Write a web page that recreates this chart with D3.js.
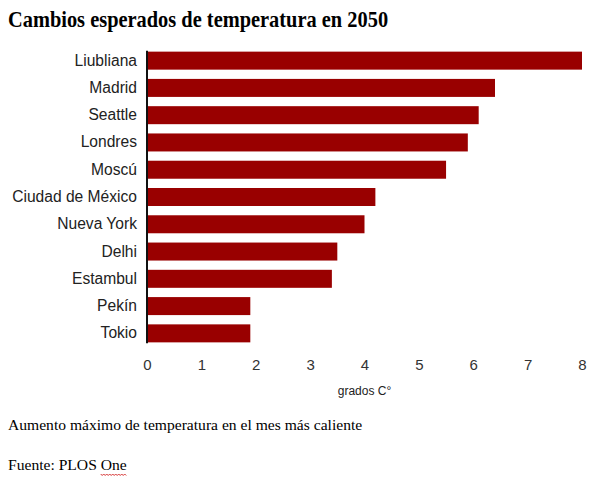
<!DOCTYPE html>
<html>
<head>
<meta charset="utf-8">
<script src="https://cdn.jsdelivr.net/npm/d3@7"></script>
<style>
	body { margin: 0; background: #fff; }
	svg { display: block; }
</style>
</head>
<body>
<div id="chart"></div>
<script>
var cities = ["Liubliana", "Madrid", "Seattle", "Londres", "Moscú", "Ciudad de México",
	"Nueva York", "Delhi", "Estambul", "Pekín", "Tokio"];
var values = [8.0, 6.4, 6.1, 5.9, 5.5, 4.2, 4.0, 3.5, 3.4, 1.9, 1.9];
var xTicks = [0, 1, 2, 3, 4, 5, 6, 7, 8];

function init() {
	var w = 600;
	var h = 482;

	var svg = d3.select("#chart")
		.append("svg")
		.attr("width", w)
		.attr("height", h);

	var xScale = d3.scaleLinear()
		.domain([0, 8])
		.range([147, 582]);

	var yScale = d3.scaleBand()
		.domain(cities)
		.range([47, 347])
		.paddingInner(0.34)
		.paddingOuter(0.17);

	// title (slightly taller than wide, like the original)
	svg.append("text")
		.attr("transform", "translate(8,27) scale(1,1.1)")
		.style("font-family", "'Liberation Serif', 'Times New Roman', serif")
		.style("font-weight", "bold")
		.style("font-size", "20.4px")
		.attr("fill", "#000")
		.text("Cambios esperados de temperatura en 2050");

	svg.selectAll("rect.bar")
		.data(values)
		.enter()
		.append("rect")
		.attr("class", "bar")
		.attr("x", xScale(0))
		.attr("y", function(d, i) { return yScale(cities[i]); })
		.attr("width", function(d) { return xScale(d) - xScale(0); })
		.attr("height", yScale.bandwidth())
		.attr("fill", "#990000");

	// city labels
	var yAxis = d3.axisLeft(yScale).tickSize(0).tickPadding(10);
	var gy = svg.append("g")
		.attr("transform", "translate(" + xScale(0) + ",0)")
		.call(yAxis);
	gy.select(".domain").remove();
	gy.selectAll("text")
		.style("font-family", "'Liberation Sans', Arial, sans-serif")
		.style("font-size", "15.6px")
		.attr("fill", "#222");

	// vertical axis line
	svg.append("line")
		.attr("x1", xScale(0))
		.attr("x2", xScale(0))
		.attr("y1", yScale(cities[0]) - 1)
		.attr("y2", yScale(cities[cities.length - 1]) + yScale.bandwidth() + 1)
		.attr("stroke", "#111")
		.attr("stroke-width", 2);

	var xAxis = d3.axisBottom(xScale)
		.tickValues(xTicks)
		.tickSize(0)
		.tickPadding(0);
	var gx = svg.append("g")
		.attr("transform", "translate(0,359)")
		.call(xAxis);
	gx.select(".domain").remove();
	gx.selectAll("text")
		.style("font-family", "'Liberation Sans', Arial, sans-serif")
		.style("font-size", "15px")
		.attr("fill", "#333");

	svg.append("text")
		.attr("x", (xScale(0) + xScale(8)) / 2)
		.attr("y", 395)
		.attr("text-anchor", "middle")
		.style("font-family", "'Liberation Sans', Arial, sans-serif")
		.style("font-size", "12px")
		.attr("fill", "#222")
		.text("grados C°");

	// notes
	svg.append("text")
		.attr("x", 8)
		.attr("y", 430)
		.style("font-family", "'Liberation Serif', 'Times New Roman', serif")
		.style("font-size", "15.6px")
		.attr("fill", "#000")
		.text("Aumento máximo de temperatura en el mes más caliente");

	var src = svg.append("text")
		.attr("x", 8)
		.attr("y", 470)
		.style("font-family", "'Liberation Serif', 'Times New Roman', serif")
		.style("font-size", "15.6px")
		.attr("fill", "#000");
	src.append("tspan").text("Fuente: PLOS ");
	var one = src.append("tspan").text("One");

	// red spell-check squiggle under "One"
	var start = one.node().getStartPositionOfChar(0).x;
	var end = one.node().getEndPositionOfChar(2).x;
	var pts = [];
	for (var x = start, k = 0; x <= end + 0.1; x += 1.5, k++) {
		pts.push([x, 474.5 + (k % 2 ? 1 : -0.5)]);
	}
	svg.append("path")
		.attr("d", d3.line()(pts))
		.attr("fill", "none")
		.attr("stroke", "#d02020")
		.attr("stroke-width", 0.9);
}

window.onload = init;
</script>
</body>
</html>
